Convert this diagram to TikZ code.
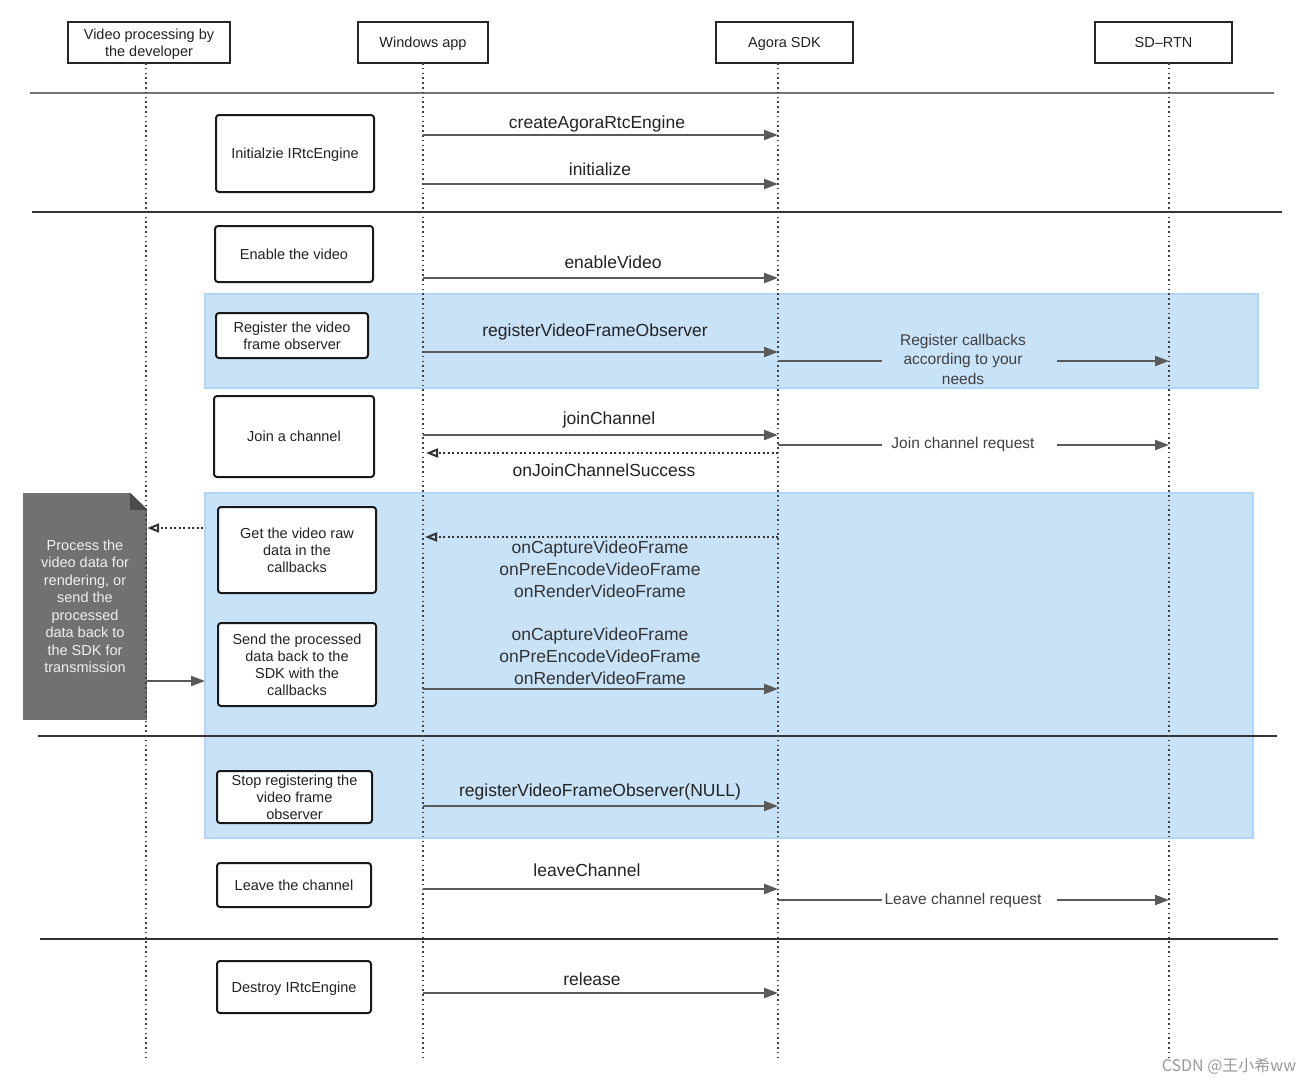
\documentclass[tikz,border=0pt]{standalone}
\usepackage{fontspec}
\setmainfont{Liberation Sans}
\newfontfamily\cjk{Noto Sans CJK SC}
\usetikzlibrary{arrows.meta}
\definecolor{lineg}{HTML}{5A5A5A}
\definecolor{bandblue}{HTML}{C8E2F8}
\definecolor{bandedge}{HTML}{B2D5F5}
\definecolor{notegray}{HTML}{717171}
\definecolor{foldgray}{HTML}{4B4B4B}
\definecolor{txt}{HTML}{222222}

\begin{document}
\begin{tikzpicture}[x=1pt,y=-1pt]
            \tikzstyle{head}=[draw=black!85, line width=2pt, minimum height=41pt, font=\fontsize{14.5}{17}\selectfont, text=txt, align=center, inner sep=2pt, text depth=0pt]
            \tikzstyle{stepbox}=[draw=black!90, line width=2pt, rounded corners=3pt, fill=white, font=\fontsize{14.5}{17}\selectfont, text=txt, align=center, inner sep=2pt, text depth=0pt]
            \tikzstyle{life}=[black!75, line width=1.6pt, dash pattern=on 1.6pt off 3.2pt]
            \tikzstyle{msg}=[lineg, line width=2.2pt, -{Triangle[length=14pt,width=10pt]}]
            \tikzstyle{ret}=[black!80, line width=2pt, dash pattern=on 2pt off 2.5pt, -{Triangle[open,length=12pt,width=9pt]}]
            \tikzstyle{lbl}=[font=\fontsize{17.5}{22}\selectfont, text=txt, align=center, inner sep=0pt, text depth=0pt]
            \tikzstyle{side}=[font=\fontsize{15.5}{19.5}\selectfont, text=black!75, align=center, inner sep=0pt, minimum width=162pt]
            \tikzstyle{band}=[fill=bandblue, draw=bandedge, line width=2pt]
            \tikzstyle{sep}=[black!80, line width=2pt]

            \useasboundingbox (0,0) rectangle (1313,1084);

            \draw[band] (205,294) rectangle (1258,388);
            \draw[band] (205,493) rectangle (1253,838);

            \draw[sep, black!55] (30,93) -- (1274,93);
            \draw[sep] (32,212) -- (1282,212);
            \draw[sep] (38,736) -- (1277,736);
            \draw[sep] (40,939) -- (1278,939);

            \node[head, minimum width=162pt] (dev) at (149,42.5) {Video processing by\\the developer};
            \node[head, minimum width=130pt] (win) at (423,42.5) {Windows app};
            \node[head, minimum width=137pt] (sdk) at (784.5,42.5) {Agora SDK};
            \node[head, minimum width=137pt] (rtn) at (1163.5,42.5) {SD--RTN};

            \node[fill=notegray, minimum width=124pt, minimum height=227pt, inner sep=0pt, text=white!94!black, align=center, font=\fontsize{14.5}{17.5}\selectfont] (note) at (85,606.5) {Process the\\video data for\\rendering, or\\send the\\processed\\data back to\\the SDK for\\transmission};
            \fill[white] ([xshift=-17pt]note.north east) -- ([xshift=1pt]note.north east) -- ([xshift=1pt,yshift=-17pt]note.north east) -- cycle;
            \fill[foldgray] ([xshift=-17pt]note.north east) -- ([xshift=-17pt,yshift=-17pt]note.north east) -- ([yshift=-17pt]note.north east) -- cycle;

            \coordinate (ldev) at (146,63);
            \coordinate (lwin) at (423,63);
            \coordinate (lsdk) at (778,63);
            \coordinate (lrtn) at (1169,63);
            \coordinate (bottom) at (0,1057);
            \draw[life] (ldev) -- (ldev |- bottom);
            \draw[life] (lwin) -- (lwin |- bottom);
            \draw[life] (lsdk) -- (lsdk |- bottom);
            \draw[life] (lrtn) -- (lrtn |- bottom);

            \node[stepbox, minimum width=158pt, minimum height=77pt] (init) at (295,153.5) {Initialzie IRtcEngine};
            \node[stepbox, minimum width=158pt, minimum height=56pt] (enable) at (294,254) {Enable the video};
            \node[stepbox, minimum width=152pt, minimum height=45pt] (reg) at (292,335.5) {Register the video\\frame observer};
            \node[stepbox, minimum width=160pt, minimum height=81pt] (join) at (294,436.5) {Join a channel};
            \node[stepbox, minimum width=158pt, minimum height=86pt] (getraw) at (297,550) {Get the video raw\\data in the\\callbacks};
            \node[stepbox, minimum width=158pt, minimum height=83pt] (send) at (297,664.5) {Send the processed\\data back to the\\SDK with the\\callbacks};
            \node[stepbox, minimum width=155pt, minimum height=52pt] (stop) at (294.5,797) {Stop registering the\\video frame\\observer};
            \node[stepbox, minimum width=154pt, minimum height=44pt] (leave) at (294,885) {Leave the channel};
            \node[stepbox, minimum width=154pt, minimum height=52pt] (destroy) at (294,987) {Destroy IRtcEngine};

            \coordinate (m1) at (0,135);
            \coordinate (m2) at (0,184);
            \coordinate (m3) at (0,278);
            \coordinate (m4) at (0,352);
            \coordinate (m5) at (0,435);
            \coordinate (m6) at (0,453);
            \coordinate (m7) at (0,537);
            \coordinate (m8) at (0,689);
            \coordinate (m9) at (0,806);
            \coordinate (m10) at (0,889);
            \coordinate (m11) at (0,993);

            \node[lbl] (create) at (597,122) {createAgoraRtcEngine};
            \node[lbl] (initm) at (600,169) {initialize};
            \node[lbl] (enablem) at (613,262) {enableVideo};
            \node[lbl] (regm) at (595,330) {registerVideoFrameObserver};
            \node[lbl] (joinm) at (609,418) {joinChannel};
            \node[lbl] (joinok) at (604,470) {onJoinChannelSuccess};
            \node[lbl, text=black!80] (cbin) at (600,569) {onCaptureVideoFrame\\onPreEncodeVideoFrame\\onRenderVideoFrame};
            \node[lbl, text=black!80] (cbout) at (600,656) {onCaptureVideoFrame\\onPreEncodeVideoFrame\\onRenderVideoFrame};
            \node[lbl] (unreg) at (600,790) {registerVideoFrameObserver(NULL)};
            \node[lbl] (leavem) at (587,870) {leaveChannel};
            \node[lbl] (rel) at (592,979) {release};

            \draw[msg] (lwin |- m1) -- (lsdk |- m1);
            \draw[msg] (lwin |- m2) -- (lsdk |- m2);
            \draw[msg] (lwin |- m3) -- (lsdk |- m3);
            \draw[msg] (lwin |- m4) -- (lsdk |- m4);
            \draw[msg] (lwin |- m5) -- (lsdk |- m5);
            \draw[ret] (lsdk |- m6) -- ([xshift=3pt]lwin |- m6);
            \draw[ret] (lsdk |- m7) -- ([xshift=2pt]lwin |- m7);
            \draw[msg] (lwin |- m8) -- (lsdk |- m8);
            \draw[msg] (lwin |- m9) -- (lsdk |- m9);
            \draw[msg] (lwin |- m10) -- (lsdk |- m10);
            \draw[msg] (lwin |- m11) -- (lsdk |- m11);

            \coordinate (r1) at (0,361);
            \coordinate (r2) at (0,445);
            \coordinate (r3) at (0,900);
            \node[side] (cbreg) at (963,359) {Register callbacks\\according to your\\needs};
            \node[side] (joinreq) at (963,444) {Join channel request};
            \node[side] (leavereq) at (963,900) {Leave channel request};
            \draw[lineg, line width=2.2pt] (lsdk |- r1) -- (cbreg.west |- r1);
            \draw[msg] ([xshift=13pt]cbreg.east |- r1) -- (lrtn |- r1);
            \draw[lineg, line width=2.2pt] (lsdk |- r2) -- (joinreq.west |- r2);
            \draw[msg] ([xshift=13pt]joinreq.east |- r2) -- (lrtn |- r2);
            \draw[lineg, line width=2.2pt] (lsdk |- r3) -- (leavereq.west |- r3);
            \draw[msg] ([xshift=13pt]leavereq.east |- r3) -- (lrtn |- r3);

            \coordinate (n1) at (203,528);
            \coordinate (n2) at (205,681);
            \draw[ret] (n1) -- (note.east |- n1);
            \draw[msg] (note.east |- n2) -- (n2);

            \node[font=\cjk\fontsize{16}{18}\selectfont, text=black!40, inner sep=0pt] (mark) at (1229,1066) {CSDN @王小希ww};
        \end{tikzpicture}
\end{document}
